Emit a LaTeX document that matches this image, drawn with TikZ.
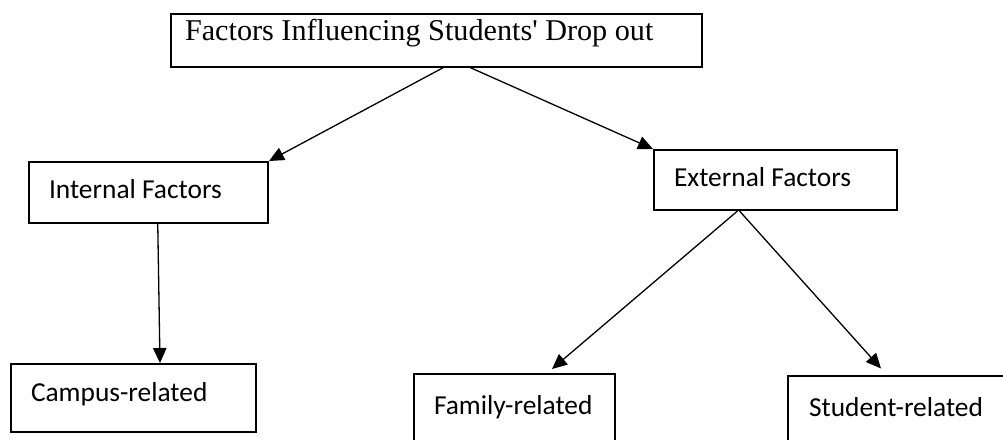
\documentclass[tikz,border=0pt]{standalone}
\usepackage{fontspec}
\newfontfamily\serifface{Liberation Serif}
\newfontfamily\sansface{Carlito}
\usetikzlibrary{arrows.meta}

\begin{document}
\begin{tikzpicture}[->,>={Triangle[length=15pt,width=13.5pt]},x=1pt,y=-1pt,line width=1.3pt]
  \tikzstyle{factor}=[draw=black,line width=2pt,anchor=north west,align=flush left,inner ysep=0pt,font=\sansface\fontsize{27.4}{30}\selectfont]

  \clip (0,0) rectangle (1003,439);

  \node[factor, font=\serifface\fontsize{30.2}{33}\selectfont, text width=503pt, inner xsep=14pt, text height=26.5pt, text depth=26.5pt] (F) at (170,12.5) {Factors Influencing Students' Drop out};
  \node[factor, text width=198.5pt, inner xsep=20.5pt, text height=36.7pt, text depth=24.3pt] (I) at (27.5,161) {Internal Factors};
  \node[factor, text width=203pt, inner xsep=20pt, text height=36pt, text depth=24pt] (E) at (653,149) {External Factors};
  \node[factor, text width=205pt, inner xsep=20pt, text height=37pt, text depth=31pt] (C) at (10,363) {Campus-related};
  \node[factor, text width=160pt, inner xsep=20.5pt, text height=40pt, text depth=30pt] (Fa) at (412.5,373) {Family-related};
  \node[factor, text width=201pt, inner xsep=21pt, text height=40.5pt, text depth=30pt] (St) at (787,374.5) {Student-related};

  \draw ([xshift=7pt]F.south) -- (I.north east);
  \draw ([xshift=33.5pt]F.south) -- (E.north west);
  \draw ([xshift=9.5pt]I.south) -- ([xshift=26.5pt]C.north);
  \draw ([xshift=-38pt]E.south) -- ([xshift=38pt,yshift=4pt]Fa.north);
  \draw ([xshift=-36pt]E.south) -- ([xshift=-28.5pt,yshift=6pt]St.north);
\end{tikzpicture}
\end{document}
